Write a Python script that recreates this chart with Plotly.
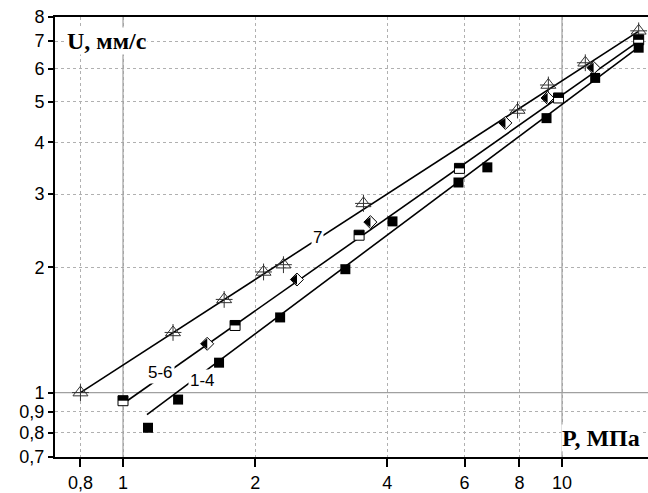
import math
import plotly.graph_objects as go

# ---- data ----
P_tri = [0.8, 1.30, 1.70, 2.09, 2.32, 3.53, 7.92, 9.31, 11.3, 14.95]
U_tri = [1.00, 1.395, 1.675, 1.95, 2.03, 2.85, 4.78, 5.49, 6.21, 7.41]

P_hsq = [1.0, 1.80, 3.45, 5.84, 9.82, 14.95]
U_hsq = [0.956, 1.45, 2.39, 3.46, 5.11, 7.05]

P_dia = [1.555, 2.49, 3.66, 7.43, 9.27, 11.8]
U_dia = [1.31, 1.87, 2.57, 4.45, 5.11, 6.04]

P_sq = [1.14, 1.335, 1.655, 2.28, 3.21, 4.11, 5.81, 6.76, 9.22, 11.9, 14.95]
U_sq = [0.823, 0.962, 1.18, 1.516, 1.98, 2.58, 3.20, 3.48, 4.57, 5.71, 6.75]

# fitted lines (end points)
P_fit7 = [0.8, 14.9]
U_fit7 = [1.0, 7.38]
P_fit56 = [1.0, 14.9]
U_fit56 = [0.94, 6.98]
P_fit14 = [1.134, 14.9]
U_fit14 = [0.885, 6.75]

x_ticks = [0.8, 1, 2, 4, 6, 8, 10]
x_ticktext = ["0,8", "1", "2", "4", "6", "8", "10"]
y_ticks = [0.7, 0.8, 0.9, 1, 2, 3, 4, 5, 6, 7, 8]
y_ticktext = ["0,7", "0,8", "0,9", "1", "2", "3", "4", "5", "6", "7", "8"]

x_range = [0.7, 15.7]
y_range = [0.7, 8.0]
solid_x = [1, 10]
solid_y = [1]

fig = go.Figure()

# solid grid lines
for xv in solid_x:
    fig.add_trace(go.Scatter(x=[xv, xv], y=y_range, mode="lines",
                             line=dict(color="#a0a0a0", width=1.2),
                             hoverinfo="skip", showlegend=False))
for yv in solid_y:
    fig.add_trace(go.Scatter(x=x_range, y=[yv, yv], mode="lines",
                             line=dict(color="#a0a0a0", width=1.2),
                             hoverinfo="skip", showlegend=False))

# fit lines
for px, uy in [(P_fit7, U_fit7), (P_fit56, U_fit56), (P_fit14, U_fit14)]:
    fig.add_trace(go.Scatter(x=px, y=uy, mode="lines",
                             line=dict(color="black", width=1.6),
                             showlegend=False))

# triangles with cross
fig.add_trace(go.Scatter(x=P_tri, y=U_tri, mode="markers", showlegend=False,
                         marker=dict(symbol="triangle-up-open", size=13,
                                     color="#333", line=dict(color="#333", width=1))))
fig.add_trace(go.Scatter(x=P_tri, y=U_tri, mode="markers", showlegend=False,
                         marker=dict(symbol="cross-thin-open", size=12,
                                     color="#333", line=dict(color="#333", width=1))))

# half-filled diamonds (left half black)
fig.add_trace(go.Scatter(x=P_dia, y=U_dia, mode="markers", showlegend=False,
                         marker=dict(symbol="diamond", size=10, color="white",
                                     line=dict(color="black", width=1))))
fig.add_trace(go.Scatter(x=P_dia, y=U_dia, mode="markers", showlegend=False,
                         marker=dict(symbol="triangle-down", size=9, color="black",
                                     angle=90, standoff=2.2,
                                     line=dict(width=0))))

# half-filled squares (top half black)
fig.add_trace(go.Scatter(x=P_hsq, y=U_hsq, mode="markers", showlegend=False,
                         marker=dict(symbol="square", size=10, color="white",
                                     line=dict(color="black", width=1))))
fig.add_trace(go.Scatter(x=P_hsq, y=U_hsq, mode="markers", showlegend=False,
                         marker=dict(symbol="line-ew", size=7.2, angle=180, standoff=2.5,
                                     line=dict(color="black", width=5))))

# filled squares
fig.add_trace(go.Scatter(x=P_sq, y=U_sq, mode="markers", showlegend=False,
                         marker=dict(symbol="square", size=10, color="black",
                                     line=dict(width=0))))

L, R, T, B = 55, 0, 17, 36
W, H = 648, 493
pw, ph = W - L - R, H - T - B


def xp(px):
    return (px - L) / pw


def yp(py):
    return (H - B - py) / ph


label_font = dict(family="Liberation Sans, Arial", size=17, color="black")
annots = [
    dict(text="7", x=xp(317), y=yp(238)),
    dict(text="5-6", x=xp(160), y=yp(372)),
    dict(text="1-4", x=xp(202), y=yp(380)),
]
for a in annots:
    fig.add_annotation(xref="paper", yref="paper", x=a["x"], y=a["y"], text=a["text"],
                       showarrow=False, font=label_font, bgcolor="white",
                       xanchor="center", yanchor="middle", borderpad=1)

title_font = dict(family="Liberation Serif, Times New Roman", size=24, color="black")
fig.add_annotation(xref="paper", yref="paper", x=xp(66), y=yp(41),
                   text="<b>U, мм/с</b>", showarrow=False, font=title_font,
                   bgcolor="white", xanchor="left", yanchor="middle", borderpad=0)
fig.add_annotation(xref="paper", yref="paper", x=xp(641), y=yp(438),
                   text="<b>P, МПа</b>", showarrow=False, font=title_font,
                   bgcolor="white", xanchor="right", yanchor="middle", borderpad=0)

tick_font = dict(family="Liberation Sans, Arial", size=18, color="black")
fig.update_layout(
    width=W, height=H,
    margin=dict(l=L, r=R, t=T, b=B),
    paper_bgcolor="white", plot_bgcolor="white",
    showlegend=False,
    xaxis=dict(type="log", range=[math.log10(x_range[0]), math.log10(x_range[1])],
               tickvals=x_ticks, ticktext=x_ticktext, tickfont=tick_font,
               ticks="outside", ticklen=8, tickwidth=1.5, tickcolor="black",
               showline=True, linecolor="black", linewidth=2, mirror=True,
               showgrid=True, gridcolor="#b0b0b0", griddash="dot", gridwidth=1,
               zeroline=False, fixedrange=True),
    yaxis=dict(type="log", range=[math.log10(y_range[0]), math.log10(y_range[1])],
               tickvals=y_ticks, ticktext=y_ticktext, tickfont=tick_font,
               ticks="outside", ticklen=5, tickwidth=1.5, tickcolor="black",
               showline=True, linecolor="black", linewidth=2, mirror=False,
               showgrid=True, gridcolor="#b0b0b0", griddash="dot", gridwidth=1,
               zeroline=False, fixedrange=True),
)

fig.write_html("out.html")
